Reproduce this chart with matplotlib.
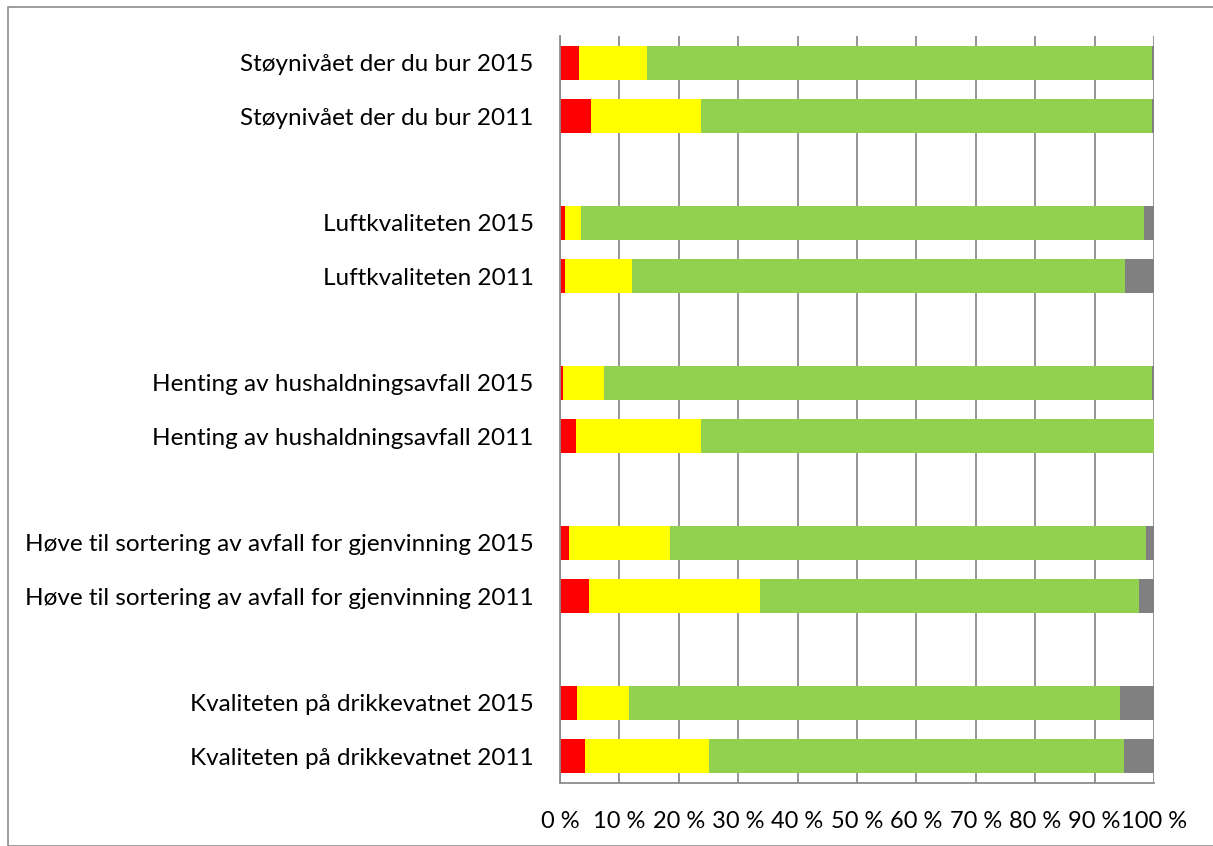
import numpy as np
import matplotlib
matplotlib.use("Agg")
import matplotlib.pyplot as plt
from matplotlib.patches import Rectangle

# ===== data =====
labels = [
    "Støynivået der du bur 2015",
    "Støynivået der du bur 2011",
    "Luftkvaliteten 2015",
    "Luftkvaliteten 2011",
    "Henting av hushaldningsavfall 2015",
    "Henting av hushaldningsavfall 2011",
    "Høve til sortering av avfall for gjenvinning 2015",
    "Høve til sortering av avfall for gjenvinning 2011",
    "Kvaliteten på drikkevatnet 2015",
    "Kvaliteten på drikkevatnet 2011",
]
red    = [3.25, 5.2, 0.8, 0.8, 0.5, 2.7, 1.5, 4.9, 2.9, 4.2]
yellow = [11.35, 18.6, 2.7, 11.3, 6.9, 21.0, 17.1, 28.7, 8.8, 20.8]
green  = [85.1, 75.9, 94.8, 83.1, 92.3, 76.3, 80.0, 63.9, 82.6, 70.0]
grey   = [0.3, 0.3, 1.7, 4.8, 0.3, 0.0, 1.4, 2.5, 5.7, 5.0]

xticks = [0, 10, 20, 30, 40, 50, 60, 70, 80, 90, 100]
xticklabels = ["0 %", "10 %", "20 %", "30 %", "40 %", "50 %",
               "60 %", "70 %", "80 %", "90 %", "100 %"]

colors = ["#FF0000", "#FFFF00", "#92D050", "#808080"]

# 2 bars per group, an empty slot between groups
ypos = []
for g in range(5):
    ypos += [g * 3, g * 3 + 1]
ypos = np.array(ypos)

plt.rcParams['font.family'] = ['Lato', 'DejaVu Sans']

fig = plt.figure(figsize=(12.13, 8.46), dpi=100)
ax = fig.add_axes([560 / 1213, 1 - 783 / 846, 594 / 1213, 747 / 846])

left = np.zeros(len(labels))
for vals, c in zip([red, yellow, green, grey], colors):
    vals = np.array(vals)
    ax.barh(ypos, vals, left=left, height=0.64, color=c, edgecolor="none", zorder=3)
    left += vals

ax.set_xlim(0, 100)
ax.set_ylim(13.5, -0.5)
ax.set_xticks(xticks)
ax.set_xticklabels(xticklabels, fontsize=17)
ax.set_yticks(ypos)
ax.set_yticklabels(labels, fontsize=17.5)
ax.tick_params(axis="x", length=0, pad=20)
ax.tick_params(axis="y", length=0, pad=19)

ax.grid(axis="x", color="#8c8c8c", linewidth=1.3, zorder=0)
for s in ["top", "right"]:
    ax.spines[s].set_visible(False)
for s in ["left", "bottom"]:
    ax.spines[s].set_color("#8c8c8c")
    ax.spines[s].set_linewidth(1.3)
    ax.spines[s].set_zorder(4)

# outer chart border
fig.patches.append(Rectangle((8 / 1213, 0), 1.2, 1 - 7 / 846, transform=fig.transFigure,
                             fill=False, edgecolor="#8c8c8c", linewidth=1.2))

fig.savefig("out.png", dpi=100)
